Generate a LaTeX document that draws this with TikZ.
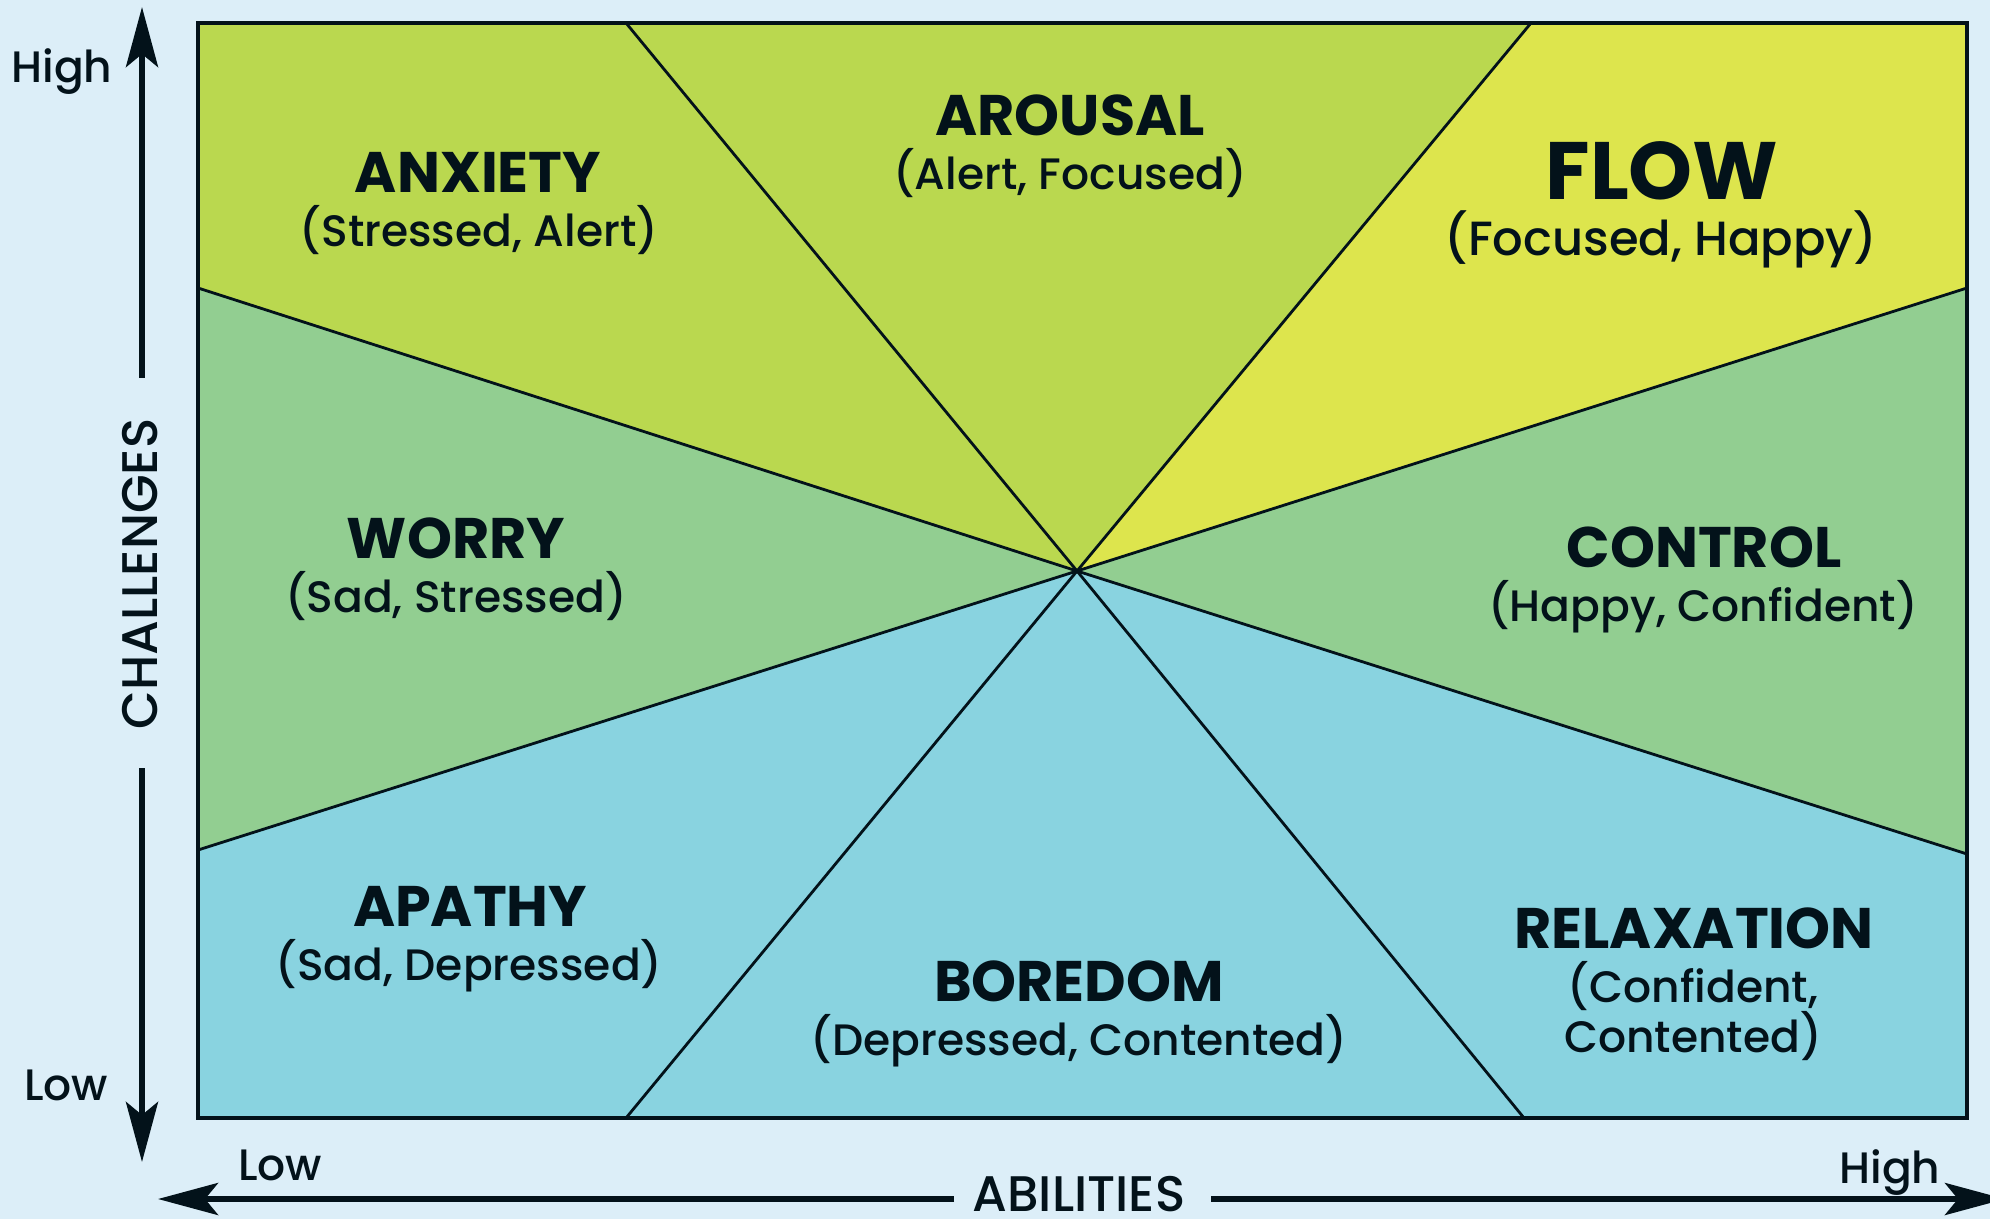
\documentclass[tikz,border=0pt]{standalone}
\usepackage{fontspec}
\setmainfont{Poppins}
\IfFontExistsTF{Poppins Medium}
  {\newfontfamily\medfont{Poppins Medium}}
  {\newfontfamily\medfont{Poppins}[FakeBold=0.6]}
\usetikzlibrary{arrows.meta}
\definecolor{bgc}{HTML}{DCEEF8}
\definecolor{ygc}{HTML}{BAD84F}
\definecolor{yelc}{HTML}{DDE54D}
\definecolor{grc}{HTML}{92CE91}
\definecolor{blc}{HTML}{89D3E0}
\definecolor{ink}{HTML}{03121A}
\begin{document}
\begin{tikzpicture}[x=0.5pt,y=-0.5pt,
  ttl/.style={font=\bfseries\fontsize{28.6}{34}\selectfont,text=ink,inner sep=0pt,anchor=base},
  bigttl/.style={font=\bfseries\fontsize{40.7}{48}\selectfont,text=ink,inner sep=0pt,anchor=base},
  sub/.style={font=\medfont\fontsize{22}{27}\selectfont,text=ink,inner sep=0pt,anchor=base},
  bigsub/.style={font=\medfont\fontsize{24}{29}\selectfont,text=ink,inner sep=0pt,anchor=base},
  axlbl/.style={font=\medfont\fontsize{22}{27}\selectfont,text=ink,inner sep=0pt,anchor=base},
  axname/.style={font=\medfont\fontsize{25}{30}\selectfont,text=ink,inner sep=0pt,anchor=base},
  ray/.style={draw=ink,line width=1.4pt},
  frame/.style={draw=ink,line width=2.25pt},
  axisline/.style={draw=ink,line width=3pt},
  tipped/.style={-{Stealth[length=30pt,width=16pt,inset=6.5pt]}},
]
\fill[bgc] (0,0) rectangle (1990,1219);
\useasboundingbox (0,0) rectangle (1990,1219);

% frame corners and ray end points
\coordinate (TL) at (198,23);
\coordinate (TR) at (1967,23);
\coordinate (BR) at (1967,1118);
\coordinate (BL) at (198,1118);
\coordinate (C)  at (1077,571);
\coordinate (T1) at (626,23);
\coordinate (T2) at (1531,23);
\coordinate (L1) at (198,288);
\coordinate (L2) at (198,850);
\coordinate (R1) at (1967,288);
\coordinate (R2) at (1967,854);
\coordinate (B1) at (626,1118);
\coordinate (B2) at (1524,1118);

% sectors
\fill[ygc]  (TL) -- (T1) -- (C) -- (L1) -- cycle;
\fill[ygc]  (T1) -- (T2) -- (C) -- cycle;
\fill[yelc] (T2) -- (TR) -- (R1) -- (C) -- cycle;
\fill[grc]  (L1) -- (C) -- (L2) -- cycle;
\fill[grc]  (R1) -- (R2) -- (C) -- cycle;
\fill[blc]  (L2) -- (C) -- (B1) -- (BL) -- cycle;
\fill[blc]  (B1) -- (C) -- (B2) -- cycle;
\fill[blc]  (B2) -- (C) -- (R2) -- (BR) -- cycle;

% rays
\draw[ray] (C) -- (T1);
\draw[ray] (C) -- (T2);
\draw[ray] (C) -- (L1);
\draw[ray] (C) -- (L2);
\draw[ray] (C) -- (R1);
\draw[ray] (C) -- (R2);
\draw[ray] (C) -- (B1);
\draw[ray] (C) -- (B2);

% frame
\draw[frame] (TL) rectangle (BR);

% sector labels
\node[ttl] (anx) at (478,193) {ANXIETY};
\node[sub] (anxs) at (479,247) {(Stressed, Alert)};
\node[ttl] (aro) at (1070,136) {AROUSAL};
\node[sub] (aros) at (1070,190) {(Alert, Focused)};
\node[bigttl] (flow) at (1662,200) {FLOW};
\node[bigsub] (flows) at (1661,256) {(Focused, Happy)};
\node[ttl] (wor) at (456,558) {WORRY};
\node[sub] (wors) at (456,612) {(Sad, Stressed)};
\node[ttl] (con) at (1704,567) {CONTROL};
\node[sub] (cons) at (1703,621) {(Happy, Confident)};
\node[ttl] (apa) at (470,926) {APATHY};
\node[sub] (apas) at (469,980) {(Sad, Depressed)};
\node[ttl] (bor) at (1079,1001) {BOREDOM};
\node[sub] (bors) at (1079,1055) {(Depressed, Contented)};
\node[ttl] (rel) at (1694,948) {RELAXATION};
\node[sub] (rels1) at (1693,1002) {(Confident,};
\node[sub] (rels2) at (1693,1052) {Contented)};

% axes
\coordinate (vtop) at (142,7);
\coordinate (vg1)  at (142,378);
\coordinate (vg2)  at (142,768);
\coordinate (vbot) at (142,1162);
\coordinate (hl)   at (158,1199);
\coordinate (hg1)  at (954,1199);
\coordinate (hg2)  at (1211,1199);
\coordinate (hr)   at (2005,1199);
\draw[axisline,tipped] (vg1) -- (vtop);
\draw[axisline,tipped] (vg2) -- (vbot);
\draw[axisline,tipped] (hg1) -- (hl);
\draw[axisline,tipped] (hg2) -- (hr);

\node[axname,rotate=90] (chal) at (157,574) {CHALLENGES};
\node[axname] (abil) at (1079,1211) {ABILITIES};
\node[axlbl] (vhigh) at (62,83) {High};
\node[axlbl] (vlow) at (66,1100) {Low};
\node[axlbl] (hlow) at (280,1180) {Low};
\node[axlbl] (hhigh) at (1890,1183) {High};
\end{tikzpicture}
\end{document}
